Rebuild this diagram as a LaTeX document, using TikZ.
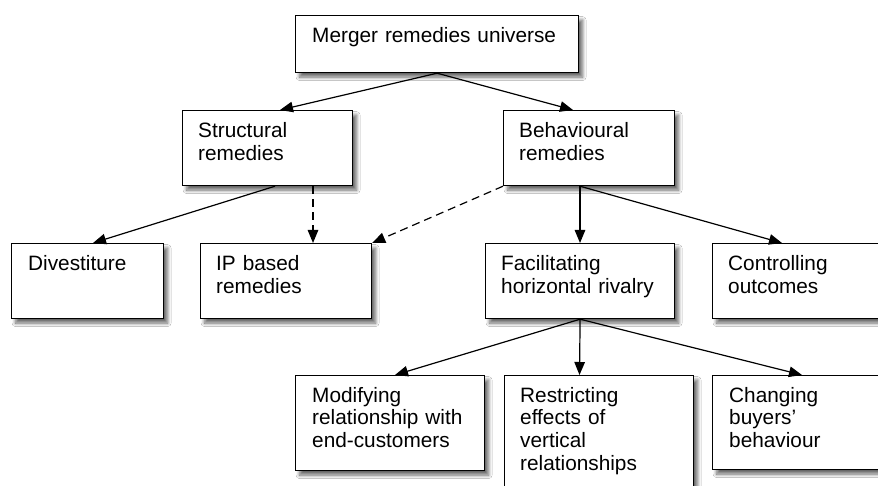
\documentclass[tikz,border=0pt]{standalone}
\usepackage{fontspec}
\setmainfont{Liberation Sans}
\usetikzlibrary{arrows.meta,calc,shadows.blur}
\begin{document}
\begin{tikzpicture}[x=1pt,y=-1pt,
  box/.style={draw=black, line width=1.2pt, fill=white, inner sep=0pt, anchor=north west,
    blur shadow={shadow xshift=4pt, shadow yshift=-4.5pt, shadow opacity=60, shadow blur radius=3.5pt, shadow blur steps=8}},
  txt/.style={anchor=base west, inner sep=0pt, align=left, text width=#1,
    font=\fontsize{20.8}{22.8}\selectfont},
  txt/.default=200pt,
  conn/.style={line width=1.2pt, -{Triangle[length=13pt,width=10.5pt]}},
  dconn/.style={conn, dash pattern=on 8pt off 5pt}
]
\useasboundingbox (0,0) rectangle (878,486);
\clip (0,0) rectangle (878,486);
\fill[white] (0,0) rectangle (878,486);

% boxes
\node[box, minimum width=283pt, minimum height=57pt] (top) at (295,15) {};
\node[box, minimum width=170pt, minimum height=75pt] (str) at (182,110) {};
\node[box, minimum width=171pt, minimum height=75pt] (beh) at (503,110) {};
\node[box, minimum width=152pt, minimum height=75pt] (div) at (11,243) {};
\node[box, minimum width=171pt, minimum height=75pt] (ip) at (200,243) {};
\node[box, minimum width=189pt, minimum height=75pt] (fac) at (485,243) {};
\node[box, minimum width=190pt, minimum height=75pt] (ctl) at (712,243) {};
\node[box, minimum width=189pt, minimum height=95pt] (mod) at (295,375) {};
\node[box, minimum width=189pt, minimum height=140pt] (res) at (504,375) {};
\node[box, minimum width=190pt, minimum height=94pt] (chg) at (712,375) {};

% texts
\node[txt=270pt] (top-t) at ($(top.north west)+(17,28)$) {Merger remedies universe};
\node[txt] (str-t) at ($(str.north west)+(16,28)$) {Structural\\remedies};
\node[txt] (beh-t) at ($(beh.north west)+(16,28)$) {Behavioural\\remedies};
\node[txt] (div-t) at ($(div.north west)+(17,28)$) {Divestiture};
\node[txt] (ip-t) at ($(ip.north west)+(16,28)$) {IP based\\remedies};
\node[txt] (fac-t) at ($(fac.north west)+(16,28)$) {Facilitating\\horizontal rivalry};
\node[txt] (ctl-t) at ($(ctl.north west)+(16,28)$) {Controlling\\outcomes};
\node[txt] (mod-t) at ($(mod.north west)+(17,27)$) {Modifying\\relationship with\\end-customers};
\node[txt] (res-t) at ($(res.north west)+(16,27)$) {Restricting\\effects of\\vertical\\relationships};
\node[txt] (chg-t) at ($(chg.north west)+(17,27)$) {Changing\\buyers’\\behaviour};

% connectors
\draw[conn] (top.south) -- ($(str.north west)+(98,0)$);
\draw[conn] (top.south) -- ($(beh.north west)+(70,0)$);
\draw[conn] ($(str.south west)+(93,0)$) -- ($(div.north west)+(82,0)$);
\draw[dconn] ($(str.south west)+(131,0)$) -- ($(ip.north west)+(113,0)$);
\draw[dconn] (beh.south west) -- (ip.north east);
\draw[conn] ($(beh.south west)+(77,0)$) -- ($(fac.north west)+(95,0)$);
\draw[conn] ($(beh.south west)+(77,0)$) -- ($(ctl.north west)+(70,0)$);
\draw[conn] (fac.south) -- ($(mod.north west)+(100,0)$);
\draw[conn] (fac.south) -- ($(res.north west)+(75.5,0)$);
\draw[conn] (fac.south) -- ($(chg.north west)+(90,0)$);
\end{tikzpicture}
\end{document}
